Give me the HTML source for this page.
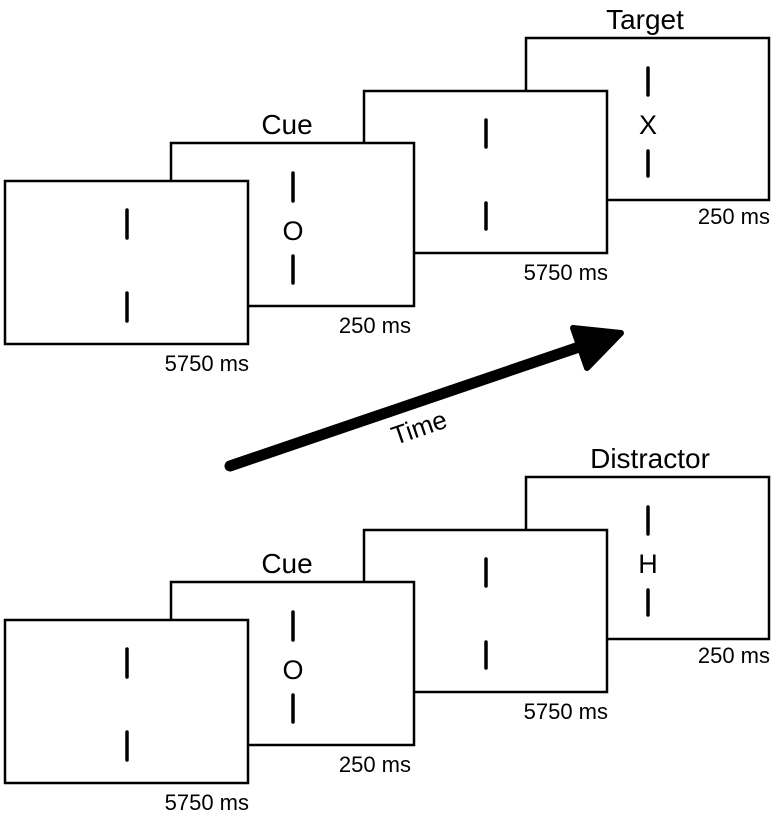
<!DOCTYPE html>
<html><head><meta charset="utf-8"><style>html,body{margin:0;padding:0;background:#fff}svg{display:block}</style></head>
<body>
<svg width="774" height="813" viewBox="0 0 774 813" xmlns="http://www.w3.org/2000/svg" font-family="Liberation Sans, Arial, sans-serif">
<defs>
<g id="set">
  <rect x="526" y="38" width="243" height="162" fill="#fff" stroke="#000" stroke-width="2.5"/>
  <rect x="364" y="91" width="243" height="162" fill="#fff" stroke="#000" stroke-width="2.5"/>
  <rect x="171" y="143" width="243" height="163" fill="#fff" stroke="#000" stroke-width="2.5"/>
  <rect x="5" y="181" width="243" height="163" fill="#fff" stroke="#000" stroke-width="2.5"/>
  <g stroke="#000" stroke-width="3.5" stroke-linecap="round">
    <line x1="127" y1="210" x2="127" y2="238"/><line x1="127" y1="293" x2="127" y2="321"/>
    <line x1="293" y1="173" x2="293" y2="201"/><line x1="293" y1="256" x2="293" y2="283"/>
    <line x1="486" y1="120" x2="486" y2="147"/><line x1="486" y1="203" x2="486" y2="229"/>
    <line x1="648" y1="68" x2="648" y2="95"/><line x1="648" y1="151" x2="648" y2="176"/>
  </g>
  <text x="293" y="240" font-size="27" text-anchor="middle">O</text>
  <text x="287" y="134" font-size="28" text-anchor="middle">Cue</text>
  <text x="249" y="371" font-size="22" text-anchor="end">5750 ms</text>
  <text x="411" y="333" font-size="22" text-anchor="end">250 ms</text>
  <text x="608" y="280" font-size="22" text-anchor="end">5750 ms</text>
  <text x="770" y="224" font-size="22" text-anchor="end">250 ms</text>
</g>
</defs>
<use href="#set"/>
<text x="648" y="134" font-size="27" text-anchor="middle">X</text>
<text x="645" y="29" font-size="28" text-anchor="middle">Target</text>
<use href="#set" transform="translate(0,439)"/>
<text x="648" y="573" font-size="27" text-anchor="middle">H</text>
<text x="650" y="468" font-size="28" text-anchor="middle">Distractor</text>
<line x1="230" y1="466" x2="585" y2="345" stroke="#000" stroke-width="11" stroke-linecap="round"/>
<polygon points="573,328 621,333 587,368" fill="#000" stroke="#000" stroke-width="6" stroke-linejoin="round"/>
<text x="0" y="0" font-size="26" text-anchor="middle" transform="translate(422,436) rotate(-19)">Time</text>
</svg>
</body></html>
